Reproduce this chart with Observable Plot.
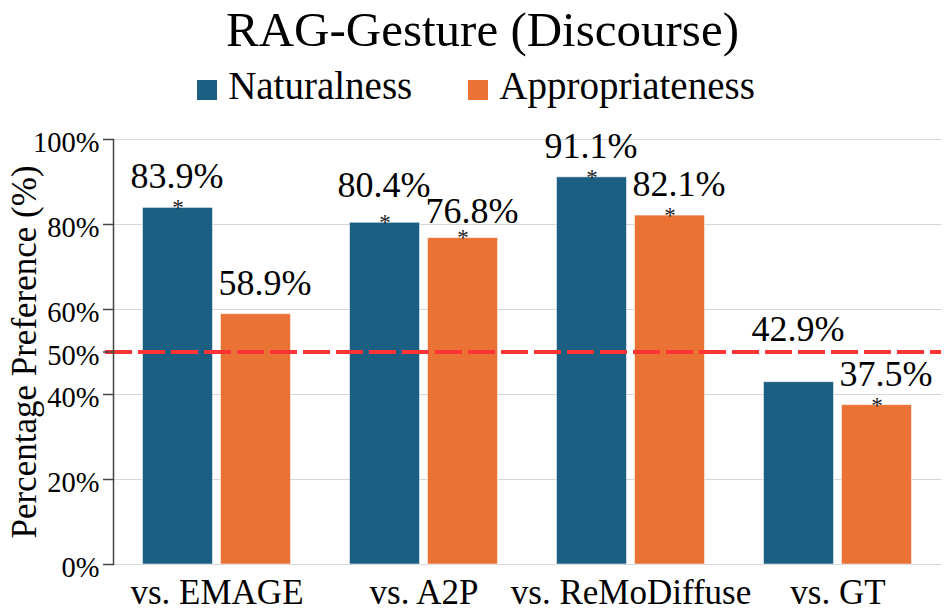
<!DOCTYPE html>
<html>
<head>
<meta charset="utf-8">
<script src="https://cdn.jsdelivr.net/npm/d3@7"></script>
<script src="https://cdn.jsdelivr.net/npm/@observablehq/plot@0.6"></script>
<style>
  html, body { margin: 0; padding: 0; background: #fff; }
  body { width: 952px; font-family: "Liberation Serif", "DejaVu Serif", serif; color: #000; }
  #header { position: relative; height: 120px; }
  #title { position: absolute; left: 13px; right: 0; top: 5px; text-align: center;
           font-size: 49px; line-height: 49px; white-space: nowrap; }
  #legend { position: absolute; left: 0; right: 0; top: 66px; display: flex; justify-content: center;
            font-size: 39px; line-height: 39px; }
  .item { display: flex; align-items: flex-start; margin: 0 28px; }
  .swatch { width: 20px; height: 20px; margin-top: 14px; margin-right: 11px; }
</style>
</head>
<body>
<div id="header">
  <div id="title"></div>
  <div id="legend"></div>
</div>
<div id="chart"></div>
<script>
// ---- data ----
const title = "RAG-Gesture (Discourse)";
const groups = ["vs. EMAGE", "vs. A2P", "vs. ReMoDiffuse", "vs. GT"];
const seriesNames = ["Naturalness", "Appropriateness"];
const naturalness = [83.9, 80.4, 91.1, 42.9];
const appropriateness = [58.9, 76.8, 82.1, 37.5];
const naturalnessSig = [true, true, true, false];
const appropriatenessSig = [false, true, true, true];
const yTicks = [0, 20, 40, 50, 60, 80, 100];
const gridTicks = [0, 20, 40, 60, 80, 100];
const chanceLevel = 50;

// ---- style / layout ----
const colors = ["#1b5f83", "#e97234"];
const font = "Liberation Serif";
const W = 952, H = 494;
const mL = 113, mR = 11, mT = 19, mB = 50;
const step = (W - mL - mR) / groups.length;
const barW = 70, barGap = 8;
const outer = (step - 2 * barW - barGap) / 2;
const offset = (barW + barGap) / 2;
// label placement nudges (in percentage units) to avoid overlaps
const labelNudge = {"vs. A2P|Naturalness": 1.6, "vs. A2P|Appropriateness": -1, "vs. GT|Naturalness": 5};

document.getElementById("title").textContent = title;
const legend = document.getElementById("legend");
seriesNames.forEach((s, i) => {
  const it = document.createElement("div"); it.className = "item";
  const sw = document.createElement("div"); sw.className = "swatch"; sw.style.background = colors[i];
  const tx = document.createElement("span"); tx.textContent = s;
  it.appendChild(sw); it.appendChild(tx); legend.appendChild(it);
});

const nat = groups.map((g, i) => ({group: g, series: seriesNames[0], value: naturalness[i], sig: naturalnessSig[i]}));
const app = groups.map((g, i) => ({group: g, series: seriesNames[1], value: appropriateness[i], sig: appropriatenessSig[i]}));
const fmt = d => d.value.toFixed(1) + "%";
const ly = d => d.value + (labelNudge[d.group + "|" + d.series] || 0);

const chart = Plot.plot({
  width: W, height: H,
  marginLeft: mL, marginRight: mR, marginTop: mT, marginBottom: mB,
  style: {fontFamily: font, background: "#fff", color: "#000"},
  x: {domain: groups, padding: 0, label: null},
  y: {domain: [0, 100], label: null},
  marks: [
    Plot.gridY(gridTicks, {stroke: "#d6d6d6", strokeOpacity: 1, strokeWidth: 1}),
    Plot.barY(nat, {x: "group", y: "value", fill: colors[0], insetLeft: outer, insetRight: outer + barW + barGap,
      stroke: "#fff", strokeOpacity: 0.5, strokeWidth: 1}),
    Plot.barY(app, {x: "group", y: "value", fill: colors[1], insetLeft: outer + barW + barGap, insetRight: outer,
      stroke: "#fff", strokeOpacity: 0.5, strokeWidth: 1}),
    Plot.ruleY([chanceLevel], {stroke: "#ff3535", strokeWidth: 4, strokeDasharray: "27,6", insetLeft: -8}),
    Plot.frame({anchor: "left", stroke: "#444", strokeWidth: 1.5}),
    Plot.axisY(yTicks, {tickSize: 10, tickFormat: () => "", stroke: "#444", strokeWidth: 1.5, label: null}),
    Plot.axisY(yTicks, {tickSize: 0, tickPadding: 14, dy: 3.5, fontSize: 28.5, fontFamily: font, fill: "#000",
      tickFormat: d => d + "%", label: null}),
    Plot.axisX({tickSize: 0, tickPadding: 15, fontSize: 35, fontFamily: font, fill: "#000", label: null}),
    Plot.text(["Percentage Preference (%)"], {frameAnchor: "left", rotate: -90, dx: -89, fontSize: 35,
      fontFamily: font, textAnchor: "middle", fill: "#000"}),
    Plot.text(nat, {x: "group", y: ly, text: fmt, dx: -offset - 1, dy: -31, fontSize: 36, fontFamily: font, fill: "#000"}),
    Plot.text(app, {x: "group", y: ly, text: fmt, dx: offset + 9, dy: -31, fontSize: 36, fontFamily: font, fill: "#000"}),
    Plot.text(nat.filter(d => d.sig), {x: "group", y: "value", text: () => "*", dx: -offset, dy: 0, fontSize: 23, fontFamily: font, fill: "#222"}),
    Plot.text(app.filter(d => d.sig), {x: "group", y: "value", text: () => "*", dx: offset, dy: 0, fontSize: 23, fontFamily: font, fill: "#222"})
  ]
});
document.getElementById("chart").appendChild(chart);
</script>
</body>
</html>
